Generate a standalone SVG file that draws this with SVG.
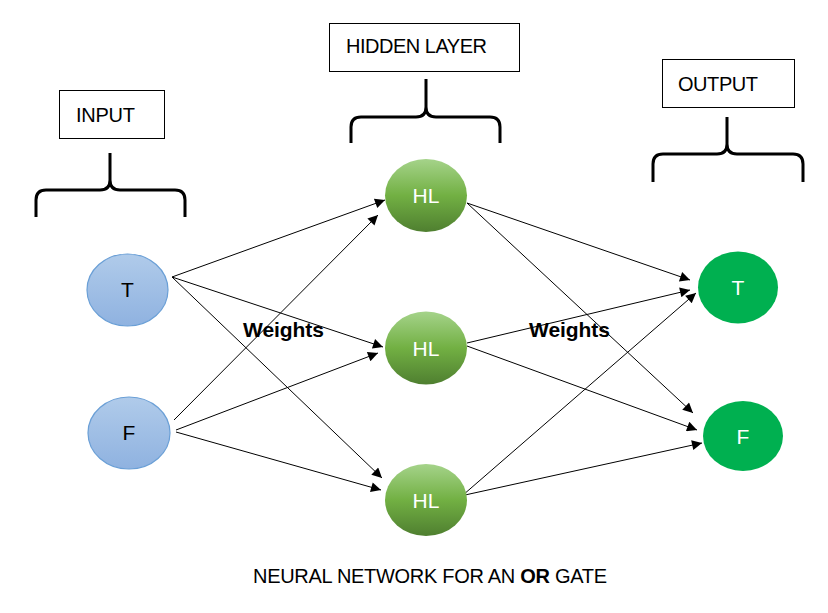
<svg xmlns="http://www.w3.org/2000/svg" width="828" height="613" viewBox="0 0 828 613">
<defs>
<linearGradient id="gBlue" x1="0" y1="0" x2="0" y2="1">
<stop offset="0" stop-color="#b0cbea"/>
<stop offset="1" stop-color="#8fb2e0"/>
</linearGradient>
<linearGradient id="gGreen" x1="0" y1="0" x2="0" y2="1">
<stop offset="0" stop-color="#a5d38a"/>
<stop offset="0.5" stop-color="#72b043"/>
<stop offset="1" stop-color="#4f7f30"/>
</linearGradient>
<marker id="arr" viewBox="0 0 10 10" refX="10" refY="5" markerWidth="14" markerHeight="10" markerUnits="userSpaceOnUse" orient="auto">
<path d="M0,0 L10,5 L0,10 z" fill="#000"/>
</marker>
<style>
.lbl{font-family:"Liberation Sans",Arial,sans-serif;font-size:20px;fill:#000}
.box{fill:#fff;stroke:#000;stroke-width:1}
.brace{fill:none;stroke:#000;stroke-width:3}
.in{fill:url(#gBlue);stroke:#6a9fd6;stroke-width:1.2}
.hl{fill:url(#gGreen)}
.out{fill:#00b050}
.wt{font-family:"Liberation Sans",Arial,sans-serif;font-size:21px;font-weight:bold;fill:#000}
.conn line{stroke:#000;stroke-width:1;marker-end:url(#arr)}
.nt{font-family:"Liberation Sans",Arial,sans-serif;font-size:21px;text-anchor:middle}
</style>
</defs>
<rect width="828" height="613" fill="#fff"/>

<g id="label-input">
<rect class="box" x="59.5" y="90.5" width="105" height="48"/>
<text class="lbl" x="76" y="122" textLength="59">INPUT</text>
<path class="brace" d="M36,217 L36,200 Q36,190 46,190 L100,190 Q110,190 110,180 L110,153 M110,180 Q110,190 120,190 L175,190 Q185,190 185,200 L185,217"/>
</g>
<g id="label-hidden">
<rect class="box" x="329.5" y="23.5" width="190" height="48"/>
<text class="lbl" x="346" y="53" textLength="141">HIDDEN LAYER</text>
<path class="brace" d="M351,143 L351,127 Q351,117 361,117 L416,117 Q426,117 426,107 L426,79 M426,107 Q426,117 436,117 L490,117 Q500,117 500,127 L500,143"/>
</g>
<g id="label-output">
<rect class="box" x="662.5" y="59.5" width="132" height="48"/>
<text class="lbl" x="678" y="91" textLength="80">OUTPUT</text>
<path class="brace" d="M653,182 L653,164 Q653,154 663,154 L717,154 Q727,154 727,144 L727,117 M727,144 Q727,154 737,154 L793,154 Q803,154 803,164 L803,182"/>
</g>

<g id="connectors" class="conn">
<line x1="172" y1="277" x2="385" y2="200"/>
<line x1="172" y1="277" x2="383" y2="347"/>
<line x1="172" y1="277" x2="382" y2="478"/>
<line x1="174" y1="420" x2="378" y2="215"/>
<line x1="176" y1="430" x2="378" y2="353"/>
<line x1="176" y1="432" x2="381" y2="490"/>
<line x1="467" y1="203" x2="690" y2="280"/>
<line x1="467" y1="203" x2="693" y2="413"/>
<line x1="467" y1="343" x2="690" y2="290"/>
<line x1="467" y1="346" x2="697" y2="430"/>
<line x1="463" y1="495" x2="696" y2="293"/>
<line x1="465" y1="495" x2="702" y2="443"/>
</g>

<g id="in-T">
<ellipse class="in" cx="127.5" cy="290" rx="40.5" ry="36"/>
<text class="nt" x="127.5" y="297">T</text>
</g>
<g id="in-F">
<ellipse class="in" cx="129" cy="433" rx="41" ry="36"/>
<text class="nt" x="129" y="440">F</text>
</g>
<g id="hl-1">
<ellipse class="hl" cx="426" cy="195.5" rx="41" ry="36.5"/>
<text class="nt" x="426" y="203" fill="#fff">HL</text>
</g>
<g id="hl-2">
<ellipse class="hl" cx="426" cy="348" rx="41" ry="36.5"/>
<text class="nt" x="426" y="356" fill="#fff">HL</text>
</g>
<g id="hl-3">
<ellipse class="hl" cx="426" cy="500" rx="41" ry="36"/>
<text class="nt" x="426" y="508" fill="#fff">HL</text>
</g>
<g id="out-T">
<ellipse class="out" cx="738" cy="287.5" rx="40" ry="36"/>
<text class="nt" x="738" y="295" fill="#fff">T</text>
</g>
<g id="out-F">
<ellipse class="out" cx="743" cy="436" rx="40" ry="35"/>
<text class="nt" x="743" y="444" fill="#fff">F</text>
</g>

<text class="wt" x="243" y="337" textLength="81">Weights</text>
<text class="wt" x="529" y="337" textLength="81">Weights</text>

<text class="lbl" x="253" y="583" textLength="354">NEURAL NETWORK FOR AN <tspan font-weight="bold">OR</tspan> GATE</text>
</svg>
